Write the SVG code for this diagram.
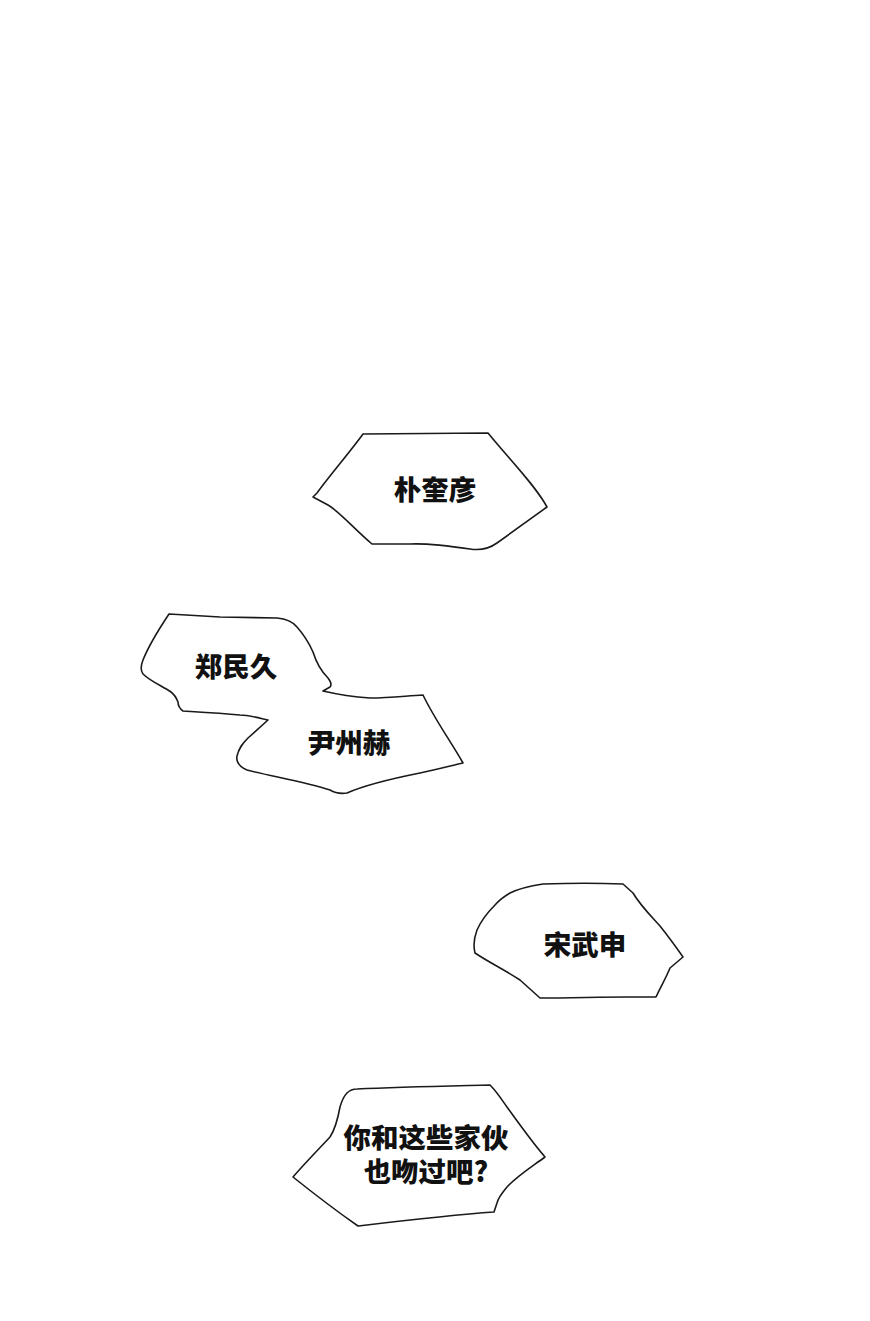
<svg xmlns="http://www.w3.org/2000/svg" width="870" height="1321" viewBox="0 0 870 1321">
<style>
.b{fill:#fff;stroke:#1a1a1a;stroke-width:1.6;stroke-linejoin:round}
.t{font-family:"Noto Sans CJK SC","Noto Sans",sans-serif;font-weight:900;font-size:27.5px;fill:#111;text-anchor:middle}
</style>
<rect width="870" height="1321" fill="#fff"/>
<g id="bubble1">
<path class="b" d="M363,434 L488,433 C510,460 535,485 547,507 L497,543 C490,548 482,551 470,549 C450,546 430,543 410,544 L372,544 C355,530 340,512 328,505 L313,497 L317,493 C330,475 350,452 363,434 Z"/>
<text class="t" x="435" y="500">朴奎彦</text>
</g>
<g id="bubble2">
<path class="b" d="M169,614 L220,617 L277,618 C288,619 293,622 297,627 C305,636 309,643 313,652 C317,665 322,672 328,678 C331,682 332,685 330,687 L323,691 C340,695 355,697 370,698 C390,698 405,696 423,695 C435,720 450,740 463,763 C450,766 435,770 420,773 C390,779 365,785 347,793 C340,794 335,793 330,790 C305,782 270,776 247,770 C238,766 236,761 237,756 C239,748 242,744 248,738 L268,720 C255,717 248,715 240,715 C220,713 200,712 183,711 C179,708 178,705 178,702 C176,697 175,695 171,692 C162,686 150,681 143,674 C140,670 141,665 143,660 C147,650 157,632 169,614 Z"/>
<text class="t" x="236" y="677">郑民久</text>
<text class="t" x="349" y="753">尹州赫</text>
</g>
<g id="bubble3">
<path class="b" d="M510,893 C520,888 530,886 543,884 C570,883 600,883 623,884 L633,893 C640,905 650,915 660,926 C668,936 676,947 683,957 L670,968 C666,978 660,988 656,997 L627,997 C600,997 570,998 540,998 L520,980 C505,970 490,963 475,953 C473,945 474,938 477,930 C481,921 488,912 495,905 C500,899 505,896 510,893 Z"/>
<text class="t" x="585" y="955">宋武申</text>
</g>
<g id="bubble4">
<path class="b" d="M347,1093 C350,1090 354,1089 357,1089 C400,1087 450,1086 490,1085 C497,1092 502,1100 507,1107 C520,1125 532,1142 545,1157 C530,1168 517,1176 507,1187 C502,1193 498,1198 497,1203 L494,1212 C450,1215 400,1221 358,1226 C335,1210 313,1193 293,1177 C305,1163 318,1150 330,1137 C336,1128 338,1118 340,1107 C342,1100 344,1096 347,1093 Z"/>
<text class="t"><tspan x="426" y="1148">你和这些家伙</tspan><tspan x="426" y="1182">也吻过吧?</tspan></text>
</g>
</svg>
